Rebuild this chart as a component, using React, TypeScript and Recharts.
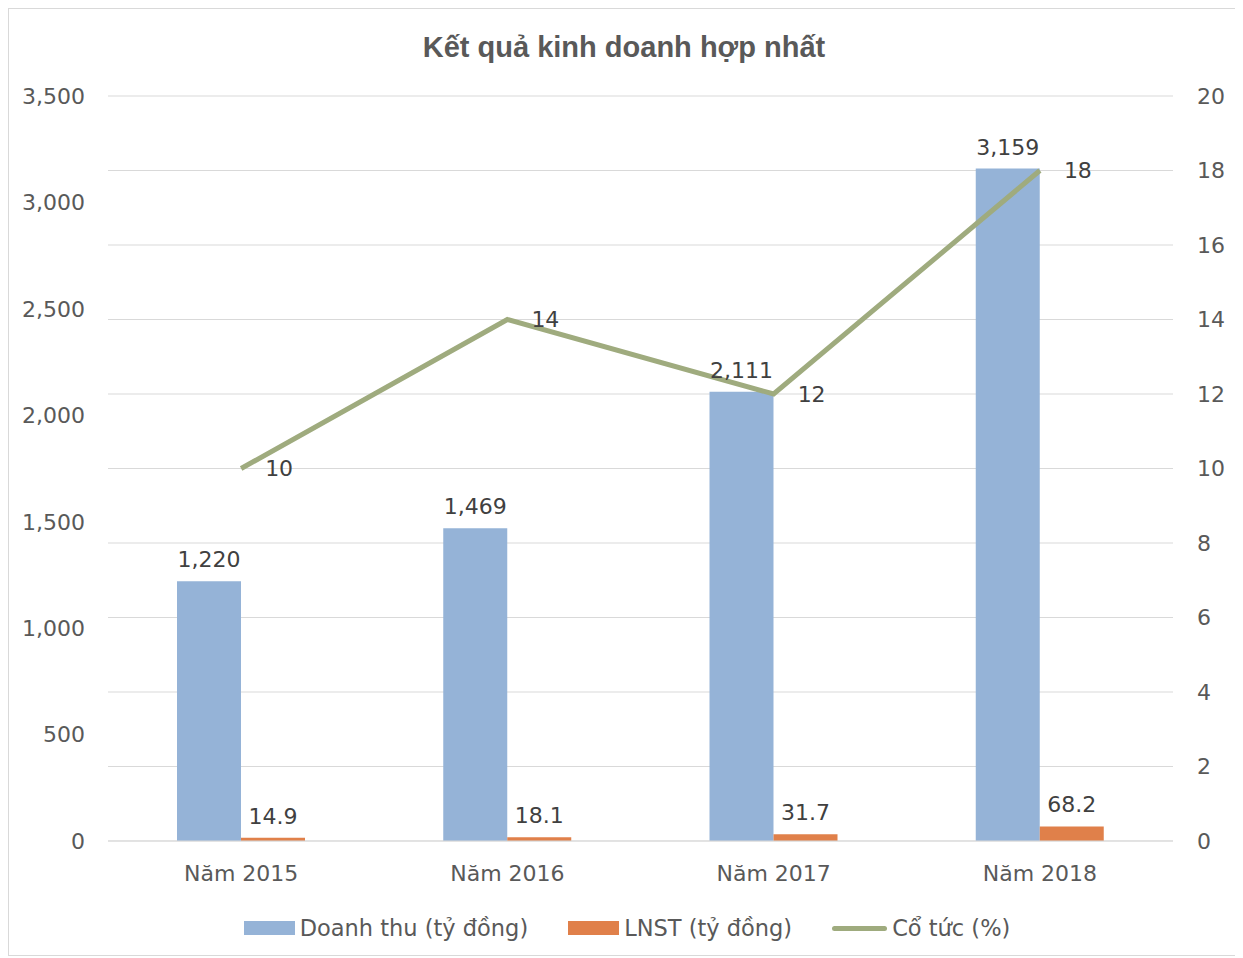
import { ComposedChart, Bar, Line, XAxis, YAxis, CartesianGrid, LabelList, Legend } from 'recharts';

const years = ['Năm 2015', 'Năm 2016', 'Năm 2017', 'Năm 2018'];
const doanhThu = [1220, 1469, 2111, 3159];
const lnst = [14.9, 18.1, 31.7, 68.2];
const coTuc = [10, 14, 12, 18];
const leftTicks = [0, 500, 1000, 1500, 2000, 2500, 3000, 3500];
const rightTicks = [0, 2, 4, 6, 8, 10, 12, 14, 16, 18, 20];

const FONT = '"DejaVu Sans", sans-serif';
const BLUE = '#95b3d7';
const ORANGE = '#e0804a';
const GREEN = '#9fab7e';

const data = years.map((name, i) => ({
  name,
  doanhThu: doanhThu[i],
  lnst: lnst[i],
  coTuc: coTuc[i],
}));

const fmt = (v: number) => v.toLocaleString('en-US');

function LegendBox() {
  const item = { display: 'flex', alignItems: 'center', marginRight: 40 } as const;
  const text = { fontFamily: FONT, fontSize: 22.5, color: '#595959', marginLeft: 5 };
  return (
    <div style={{ display: 'flex', justifyContent: 'center', paddingLeft: 6 }}>
      <div style={item}>
        <div style={{ width: 51, height: 14, background: BLUE }} />
        <span style={text}>Doanh thu (tỷ đồng)</span>
      </div>
      <div style={item}>
        <div style={{ width: 51, height: 14, background: ORANGE }} />
        <span style={text}>LNST (tỷ đồng)</span>
      </div>
      <div style={{ ...item, marginRight: 0 }}>
        <div style={{ width: 55, height: 5, borderRadius: 3, background: GREEN }} />
        <span style={text}>Cổ tức (%)</span>
      </div>
    </div>
  );
}

export default function App() {
  const tick = { fontFamily: FONT, fontSize: 22, fill: '#595959' };
  const label = { fontFamily: FONT, fontSize: 22, fill: '#404040' };
  return (
    <div style={{ position: 'relative', width: 1230, height: 946, border: '1px solid #d9d9d9', background: '#fff' }}>
      <div
        style={{
          position: 'absolute', top: 22, left: 0, width: 1230, textAlign: 'center',
          fontFamily: '"Liberation Sans", Arial, sans-serif', fontWeight: 'bold', fontSize: 29, color: '#595959',
        }}
      >
        Kết quả kinh doanh hợp nhất
      </div>
      <ComposedChart
        width={1230}
        height={946}
        data={data}
        margin={{ top: 87, right: 0, bottom: 14, left: 0 }}
        barGap={0}
      >
        <CartesianGrid vertical={false} stroke="#d9d9d9" yAxisId="right" />
        <XAxis
          dataKey="name"
          tick={tick}
          tickLine={false}
          tickSize={0}
          tickMargin={24}
          axisLine={{ stroke: '#d9d9d9' }}
          height={74}
        />
        <YAxis
          yAxisId="left"
          domain={[0, 3500]}
          ticks={leftTicks}
          tickFormatter={fmt}
          tick={tick}
          tickLine={false}
          tickSize={0}
          tickMargin={23}
          axisLine={false}
          width={99}
        />
        <YAxis
          yAxisId="right"
          orientation="right"
          domain={[0, 20]}
          ticks={rightTicks}
          tick={{ ...tick, textAnchor: 'start' }}
          tickLine={false}
          tickSize={0}
          tickMargin={24}
          axisLine={false}
          width={66}
        />
        <Legend verticalAlign="bottom" content={() => <LegendBox />} />
        <Bar yAxisId="left" dataKey="doanhThu" name="Doanh thu (tỷ đồng)" fill={BLUE} barSize={64} isAnimationActive={false}>
          <LabelList dataKey="doanhThu" position="top" offset={14} formatter={(v: any) => fmt(v)} style={label} />
        </Bar>
        <Bar yAxisId="left" dataKey="lnst" name="LNST (tỷ đồng)" fill={ORANGE} barSize={64} isAnimationActive={false}>
          <LabelList dataKey="lnst" position="top" offset={14} style={label} />
        </Bar>
        <Line
          yAxisId="right"
          dataKey="coTuc"
          name="Cổ tức (%)"
          stroke={GREEN}
          strokeWidth={5}
          dot={false}
          isAnimationActive={false}
        >
          <LabelList dataKey="coTuc" position="right" offset={24} style={label} />
        </Line>
      </ComposedChart>
    </div>
  );
}
